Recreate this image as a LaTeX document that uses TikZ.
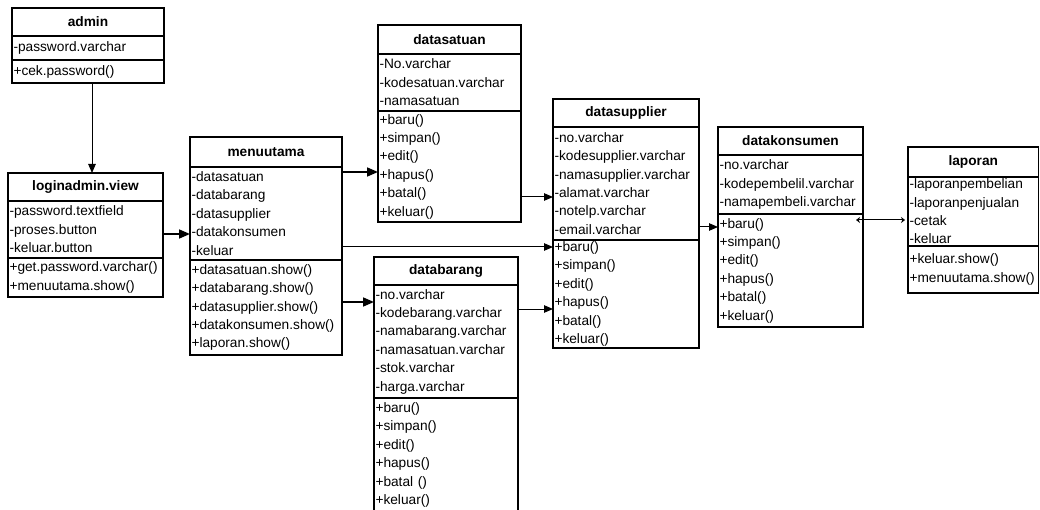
\documentclass[tikz,border=0pt]{standalone}
\usepackage{fontspec}
\setmainfont{Liberation Sans}
\usetikzlibrary{calc,arrows.meta}

\tikzset{
  sec/.style={draw=black, line width=1.1pt, rectangle, anchor=north west,
    outer sep=0pt, inner xsep=1.5pt, inner ysep=0pt, align=left,
    font=\fontsize{13.7}{18.4}\selectfont},
  ttl/.style={sec, align=center, font=\bfseries\fontsize{13.7}{16}\selectfont},
  link/.style={line width=1pt, -{Triangle[length=9pt,width=7.5pt]}},
  boldlink/.style={line width=1.7pt, -{Triangle[length=11pt,width=9pt]}},
  twoway/.style={line width=1pt, {Stealth[length=4pt,width=6pt]}-{Stealth[length=4pt,width=6pt]}},
}

\begin{document}
\begin{tikzpicture}[x=1pt,y=-1pt]
\useasboundingbox (0,0) rectangle (1040,510);

% admin
\node[ttl, text width=149pt, minimum height=28pt] (adminT) at (12,8) {admin};
\node[sec, text width=149pt, minimum height=24pt] (adminA) at (adminT.south west) {-password.varchar};
\node[sec, text width=149pt, minimum height=23pt] (adminM) at (adminA.south west) {+cek.password()};

% loginadmin.view
\node[ttl, text width=152pt, minimum height=28pt] (loginT) at (8,173) {loginadmin.view};
\node[sec, text width=152pt, minimum height=57pt] (loginA) at (loginT.south west)
  {-password.textfield\\-proses.button\\-keluar.button};
\node[sec, text width=152pt, minimum height=39pt] (loginM) at (loginA.south west)
  {+get.password.varchar()\\+menuutama.show()};

% menuutama
\node[ttl, text width=149pt, minimum height=30pt] (menuT) at (190,137) {menuutama};
\node[sec, text width=149pt, minimum height=93pt] (menuA) at (menuT.south west)
  {-datasatuan\\-databarang\\-datasupplier\\-datakonsumen\\-keluar};
\node[sec, text width=149pt, minimum height=95pt] (menuM) at (menuA.south west)
  {+datasatuan.show()\\+databarang.show()\\+datasupplier.show()\\+datakonsumen.show()\\+laporan.show()};

% datasatuan
\node[ttl, text width=140pt, minimum height=29pt] (satT) at (378,25) {datasatuan};
\node[sec, text width=140pt, minimum height=57pt] (satA) at (satT.south west)
  {-No.varchar\\-kodesatuan.varchar\\-namasatuan};
\node[sec, text width=140pt, minimum height=111pt] (satM) at (satA.south west)
  {+baru()\\+simpan()\\+edit()\\+hapus()\\+batal()\\+keluar()};

% databarang
\node[ttl, text width=141pt, minimum height=28pt] (barT) at (374,257) {databarang};
\node[sec, text width=141pt, minimum height=113pt] (barA) at (barT.south west)
  {-no.varchar\\-kodebarang.varchar\\-namabarang.varchar\\-namasatuan.varchar\\-stok.varchar\\-harga.varchar};
\node[sec, text width=141pt, minimum height=114pt] (barM) at (barA.south west)
  {+baru()\\+simpan()\\+edit()\\+hapus()\\+batal ()\\+keluar()};

% datasupplier
\node[ttl, text width=143pt, minimum height=28pt] (supT) at (553,99) {datasupplier};
\node[sec, text width=143pt, minimum height=113pt] (supA) at (supT.south west)
  {-no.varchar\\-kodesupplier.varchar\\-namasupplier.varchar\\-alamat.varchar\\-notelp.varchar\\-email.varchar};
\node[sec, text width=143pt, minimum height=108pt] (supM) at (supA.south west)
  {+baru()\\+simpan()\\+edit()\\+hapus()\\+batal()\\+keluar()};

% datakonsumen
\node[ttl, text width=142pt, minimum height=28pt] (konT) at (718,127) {datakonsumen};
\node[sec, text width=142pt, minimum height=59pt] (konA) at (konT.south west)
  {-no.varchar\\-kodepembelil.varchar\\-namapembeli.varchar};
\node[sec, text width=142pt, minimum height=113pt] (konM) at (konA.south west)
  {+baru()\\+simpan()\\+edit()\\+hapus()\\+batal()\\+keluar()};

% laporan
\node[ttl, text width=127.5pt, minimum height=30pt] (lapT) at (908,147) {laporan};
\node[sec, text width=127.5pt, minimum height=69pt] (lapA) at (lapT.south west)
  {-laporanpembelian\\-laporanpenjualan\\-cetak\\-keluar};
\node[sec, text width=127.5pt, minimum height=47pt] (lapM) at (lapA.south west)
  {+keluar.show()\\+menuutama.show()};

% connectors
\coordinate (c1) at ($(adminM.south)+(4,0)$);
\draw[link] (c1) -- (c1 |- loginT.north);

\coordinate (c2) at ($(loginA.east)+(0,4.5)$);
\draw[boldlink] (c2) -- (c2 -| menuA.west);

\coordinate (c3) at ($(menuA.east)+(0,-41.5)$);
\draw[boldlink] (c3) -- (c3 -| satA.west);

\coordinate (c4) at ($(menuA.east)+(0,33.5)$);
\draw[link] (c4) -- (c4 -| supM.west);

\coordinate (c5) at ($(menuM.east)+(0,-5.5)$);
\draw[boldlink] (c5) -- (c5 -| barA.west);

\coordinate (c6) at ($(satM.east)+(0,30.5)$);
\draw[link] (c6) -- (c6 -| supA.west);

\coordinate (c7) at ($(barA.east)+(0,-32.5)$);
\draw[link] (c7) -- (c7 -| supM.west);

\coordinate (c8) at ($(supA.east)+(0,43.5)$);
\draw[link] (c8) -- (c8 -| konM.west);

\coordinate (c9) at ($(konM.east)+(-7,-50.5)$);
\coordinate (c9b) at ($(c9 -| lapA.west)+(-3,0)$);
\draw[twoway] (c9) -- (c9b);
\end{tikzpicture}
\end{document}
